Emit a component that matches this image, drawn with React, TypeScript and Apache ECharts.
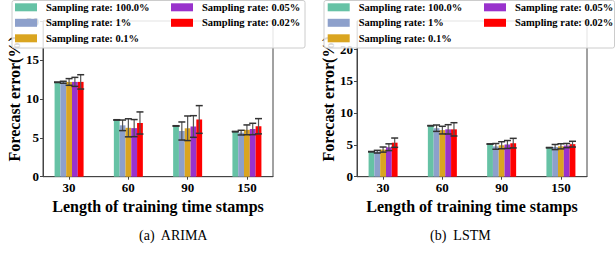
import React, { useEffect, useRef } from "react";
import * as echarts from "echarts";

const categories = ["30", "60", "90", "150"];
const rateNames = [
  "Sampling rate: 100.0%",
  "Sampling rate: 1%",
  "Sampling rate: 0.1%",
  "Sampling rate: 0.05%",
  "Sampling rate: 0.02%",
];
const colors = ["#66c2a5", "#8da0cb", "#daa520", "#9932cc", "#ff0000"];

// ARIMA (left)
const arimaR100 = [12.13, 7.29, 6.52, 5.79];
const arimaR1 = [12.13, 6.6, 5.87, 5.66];
const arimaR01 = [12.17, 6.28, 6.22, 6.02];
const arimaR005 = [12.18, 6.24, 6.45, 6.13];
const arimaR002 = [12.18, 6.9, 7.35, 6.48];
const arimaE100 = [0.03, 0.03, 0.03, 0.03];
const arimaE1 = [0.13, 0.68, 1.16, 0.3];
const arimaE01 = [0.43, 1.16, 1.58, 0.63];
const arimaE005 = [0.58, 1.1, 1.39, 0.73];
const arimaE002 = [0.92, 1.42, 1.78, 0.98];

// LSTM (right)
const lstmR100 = [3.92, 7.99, 5.12, 4.55];
const lstmR1 = [3.92, 7.6, 4.75, 4.65];
const lstmR01 = [4.25, 7.3, 4.93, 4.76];
const lstmR005 = [4.62, 7.42, 5.05, 4.88];
const lstmR002 = [5.33, 7.42, 5.26, 5.1];
const lstmE100 = [0.03, 0.03, 0.03, 0.03];
const lstmE1 = [0.21, 0.5, 0.45, 0.4];
const lstmE01 = [0.4, 0.6, 0.55, 0.4];
const lstmE005 = [0.53, 0.73, 0.62, 0.33];
const lstmE002 = [0.73, 1.04, 0.75, 0.45];

const yTicks = [0, 5, 10, 15, 20];
const xTickPos = [0, 1, 2, 3];
const captions = ["(a)  ARIMA", "(b)  LSTM"];

const values = [
  [arimaR100, arimaR1, arimaR01, arimaR005, arimaR002],
  [lstmR100, lstmR1, lstmR01, lstmR005, lstmR002],
];
const errors = [
  [arimaE100, arimaE1, arimaE01, arimaE005, arimaE002],
  [lstmE100, lstmE1, lstmE01, lstmE005, lstmE002],
];

const FONT = "Liberation Serif";
const BAR_W = 5.8;

export default function App() {
  const ref = useRef<HTMLDivElement>(null);
  useEffect(() => {
    if (!ref.current) return;
    const chart = echarts.init(ref.current, undefined, { renderer: "svg" });
    const gridLefts = [43, 357];
    const yMax = [20, 24.4];

    const series: any[] = [];
    for (let c = 0; c < 2; c++) {
      for (let i = 0; i < 5; i++) {
        series.push({
          type: "bar",
          name: rateNames[i],
          xAxisIndex: c,
          yAxisIndex: c,
          barWidth: BAR_W,
          barGap: "0%",
          itemStyle: { color: colors[i] },
          data: values[c][i].map((v, k) => [k, v]),
        });
      }
      for (let i = 0; i < 5; i++) {
        const idx = i;
        series.push({
          type: "custom",
          name: rateNames[i] + " error",
          xAxisIndex: c,
          yAxisIndex: c,
          z: 3,
          encode: { x: 0, y: 1 },
          data: values[c][i].map((v, k) => [k, v, errors[c][i][k]]),
          renderItem: (params: any, api: any) => {
            const k = api.value(0);
            const v = api.value(1);
            const e = api.value(2);
            const top = api.coord([k, v + e]);
            const bot = api.coord([k, v - e]);
            const x = top[0] + (idx - 2) * BAR_W;
            const cap = 3.5;
            return {
              type: "group",
              children: [
                {
                  type: "line",
                  shape: { x1: x, y1: top[1], x2: x, y2: bot[1] },
                  style: { stroke: "#555", lineWidth: 1.2 },
                },
                {
                  type: "line",
                  shape: { x1: x - cap, y1: top[1], x2: x + cap, y2: top[1] },
                  style: { stroke: "#333", lineWidth: 1.5 },
                },
                {
                  type: "line",
                  shape: { x1: x - cap, y1: bot[1], x2: x + cap, y2: bot[1] },
                  style: { stroke: "#333", lineWidth: 1.5 },
                },
              ],
            };
          },
        });
      }
    }

    const legendText = {
      fontFamily: FONT,
      fontWeight: "bold",
      fontSize: 10.5,
      color: "#000",
      lineHeight: 12,
      padding: [0, 0, 0, 4],
    };
    const mkLegend = (left: number, data: string[]) => ({
      orient: "vertical",
      left,
      top: 1.3,
      padding: 0,
      itemGap: 3.5,
      itemWidth: 22,
      itemHeight: 8,
      icon: "rect",
      selectedMode: false,
      z: 20,
      data,
      textStyle: legendText,
    });

    const mkTitle = (text: string, left: number) => ({
      text,
      left,
      top: 227,
      padding: 0,
      textStyle: {
        fontFamily: FONT,
        fontSize: 14,
        fontWeight: "normal",
        color: "#000",
        lineHeight: 16,
      },
    });

    const option: any = {
      animation: false,
      backgroundColor: "#fff",
      title: [mkTitle(captions[0], 139), mkTitle(captions[1], 430)],
      grid: gridLefts.map((l) => ({
        left: l,
        top: 21,
        width: 230,
        height: 155.7,
        show: true,
        borderColor: "#444",
        borderWidth: 1,
        backgroundColor: "transparent",
      })),
      xAxis: [0, 1].map((c) => ({
        gridIndex: c,
        type: "value",
        min: -0.44,
        max: 3.44,
        splitLine: { show: false },
        axisLine: { show: true, onZero: false, lineStyle: { color: "#444" } },
        axisTick: {
          show: true,
          customValues: xTickPos,
          length: 3,
          lineStyle: { color: "#444" },
        },
        axisLabel: {
          customValues: xTickPos,
          formatter: (v: number) => categories[Math.round(v)],
          fontFamily: FONT,
          fontWeight: "bold",
          fontSize: 13,
          color: "#000",
          margin: 4,
        },
        name: "Length of training time stamps",
        nameLocation: "middle",
        nameGap: 17,
        nameTextStyle: {
          fontFamily: FONT,
          fontWeight: "bold",
          fontSize: 16,
          color: "#000",
        },
      })),
      yAxis: [0, 1].map((c) => ({
        gridIndex: c,
        type: "value",
        min: 0,
        max: yMax[c],
        splitLine: { show: false },
        axisLine: { show: true, onZero: false, lineStyle: { color: "#444" } },
        axisTick: {
          show: true,
          customValues: yTicks,
          length: 3,
          lineStyle: { color: "#444" },
        },
        axisLabel: {
          customValues: yTicks,
          fontFamily: FONT,
          fontWeight: "bold",
          fontSize: 13,
          color: "#000",
          margin: 4,
        },
        name: "Forecast error(%)",
        nameLocation: "middle",
        nameRotate: 90,
        nameGap: 21,
        nameTextStyle: {
          fontFamily: FONT,
          fontWeight: "bold",
          fontSize: 16,
          color: "#000",
        },
      })),
      legend: [
        mkLegend(15, rateNames.slice(0, 3)),
        mkLegend(171, rateNames.slice(3)),
        mkLegend(327.7, rateNames.slice(0, 3)),
        mkLegend(484, rateNames.slice(3)),
      ],
      graphic: [
        {
          type: "rect",
          z: 10,
          shape: { x: 12, y: 0.5, width: 293, height: 47.5, r: 2 },
          style: { fill: "rgba(255,255,255,0.85)", stroke: "#cccccc", lineWidth: 1 },
        },
        {
          type: "rect",
          z: 10,
          shape: { x: 324, y: 0.5, width: 290.5, height: 47.5, r: 2 },
          style: { fill: "rgba(255,255,255,0.85)", stroke: "#cccccc", lineWidth: 1 },
        },
      ],
      series,
    };
    chart.setOption(option);
    return () => chart.dispose();
  }, []);
  return (
    <div
      ref={ref}
      style={{
        position: "fixed",
        left: 0,
        top: 0,
        width: 615,
        height: 256,
        background: "#fff",
      }}
    />
  );
}
